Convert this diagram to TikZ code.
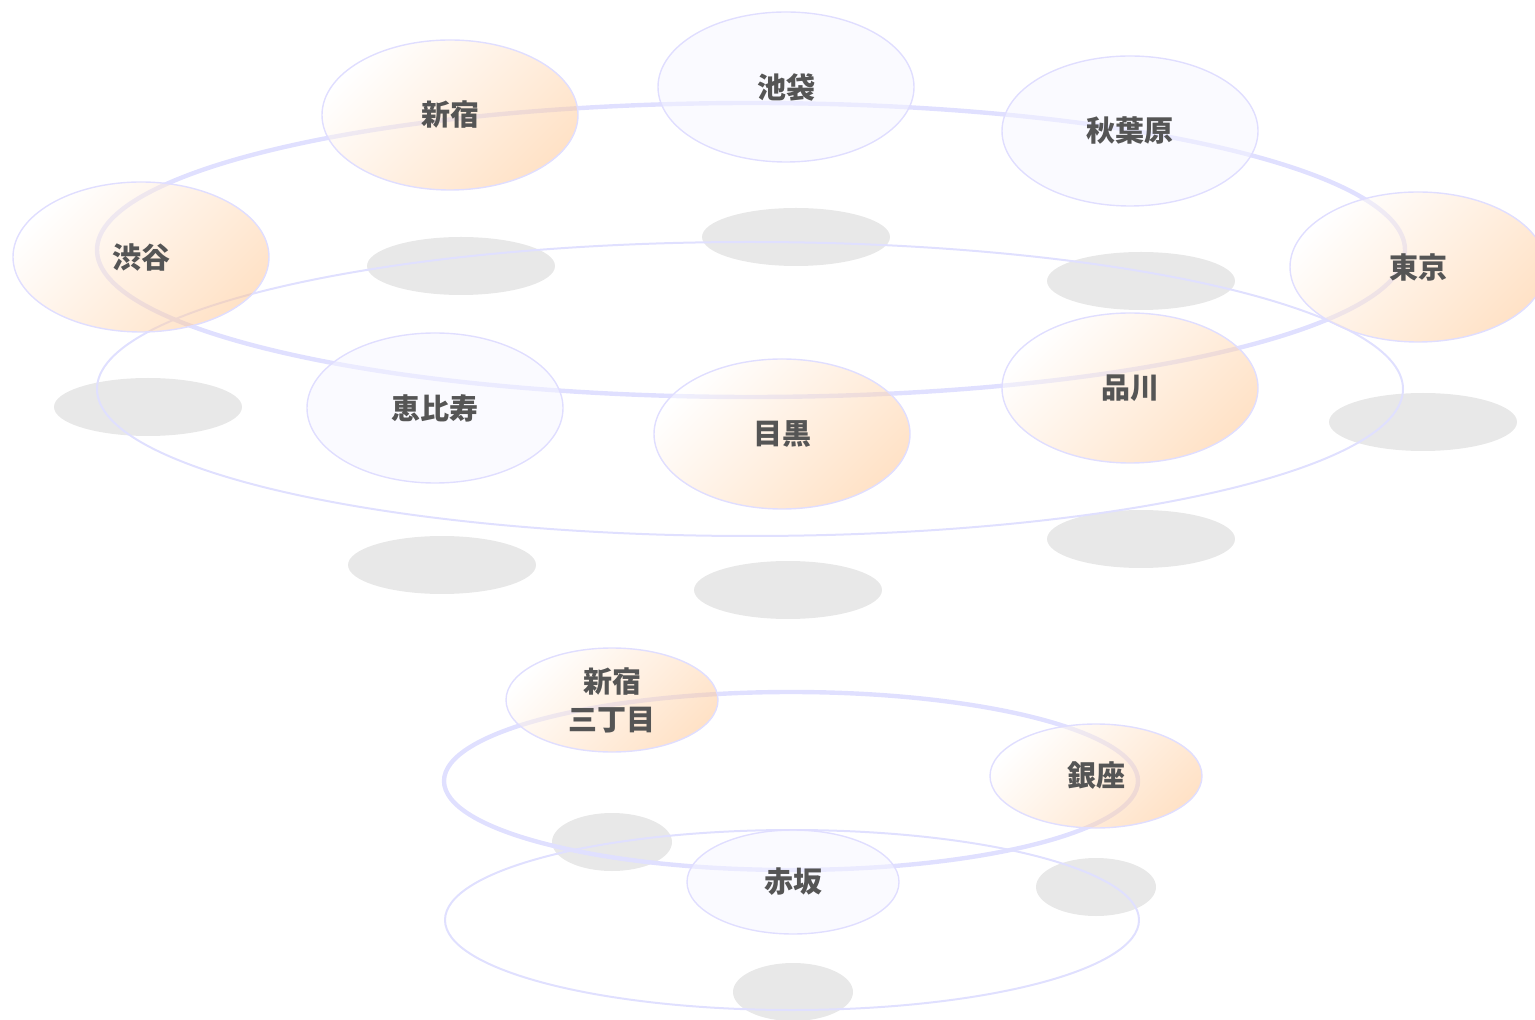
\documentclass[tikz,border=0pt]{standalone}
\usepackage{fontspec}
\newfontfamily\cjk{Noto Sans CJK JP}
\usetikzlibrary{shapes.geometric}
\definecolor{ringc}{HTML}{E0E0FF}
\definecolor{nodeline}{HTML}{E0DEFF}
\definecolor{peach}{HTML}{FFC690}
\definecolor{lav}{HTML}{F6F6FF}
\definecolor{shad}{HTML}{E6E6E6}
\definecolor{txt}{HTML}{555555}
\tikzset{
  ringthick/.style={ellipse, draw=ringc, line width=2.2pt, inner sep=0pt},
  ringthin/.style={ellipse, draw=ringc, line width=1pt, inner sep=0pt},
  shadowbig/.style={ellipse, fill=shad, fill opacity=0.9, inner sep=0pt, minimum width=94pt, minimum height=29pt},
  shadowsmall/.style={ellipse, fill=shad, fill opacity=0.9, inner sep=0pt, minimum width=60pt, minimum height=29pt},
  stn/.style={ellipse, draw=nodeline, line width=0.7pt, inner sep=0pt, text=txt,
     font=\cjk\bfseries\fontsize{14.5}{19}\selectfont, align=center, fill opacity=0.5, text opacity=1},
  big/.style={stn, minimum width=128pt, minimum height=75pt},
  small/.style={stn, minimum width=106pt, minimum height=52pt},
  hot/.style={left color=white, right color=peach, shading angle=45},
  cool/.style={fill=lav},
}
\begin{document}
\begin{tikzpicture}[x=0.5pt,y=-0.5pt]
\useasboundingbox (0,0) rectangle (1535,1020);
% shadows
\node[shadowbig] (s1) at (461,266) {};
\node[shadowbig] (s2) at (796,237) {};
\node[shadowbig] (s3) at (1141,281) {};
\node[shadowbig] (s4) at (148,407) {};
\node[shadowbig] (s5) at (1423,422) {};
\node[shadowbig] (s6) at (442,565) {};
\node[shadowbig] (s7) at (788,590) {};
\node[shadowbig] (s8) at (1141,539) {};
\node[shadowsmall] (s9) at (612,842) {};
\node[shadowsmall] (s10) at (1096,887) {};
\node[shadowsmall] (s11) at (793,992) {};
% rings
\node[ringthin, minimum width=653pt, minimum height=147pt] (r2) at (750,389) {};
\node[ringthick, minimum width=654pt, minimum height=147pt] (r1) at (751,250) {};
\node[ringthin, minimum width=347pt, minimum height=90pt] (r4) at (792,920) {};
\node[ringthick, minimum width=347pt, minimum height=89pt] (r3) at (791,781) {};
% stations
\node[big,hot] (shinjuku) at (450,115) {新宿};
\node[big,cool] (ikebukuro) at (786,87) {池袋};
\node[big,cool] (akihabara) at (1130,131) {秋葉原};
\node[big,hot] (shibuya) at (141,257) {渋谷};
\node[big,hot] (tokyo) at (1418,267) {東京};
\node[big,cool] (ebisu) at (435,408) {恵比寿};
\node[big,hot] (meguro) at (782,434) {目黒};
\node[big,hot] (shinagawa) at (1130,388) {品川};
\node[small,hot] (sanchome) at (612,700) {新宿\\三丁目};
\node[small,hot] (ginza) at (1096,776) {銀座};
\node[small,cool] (akasaka) at (793,882) {赤坂};
\end{tikzpicture}
\end{document}
